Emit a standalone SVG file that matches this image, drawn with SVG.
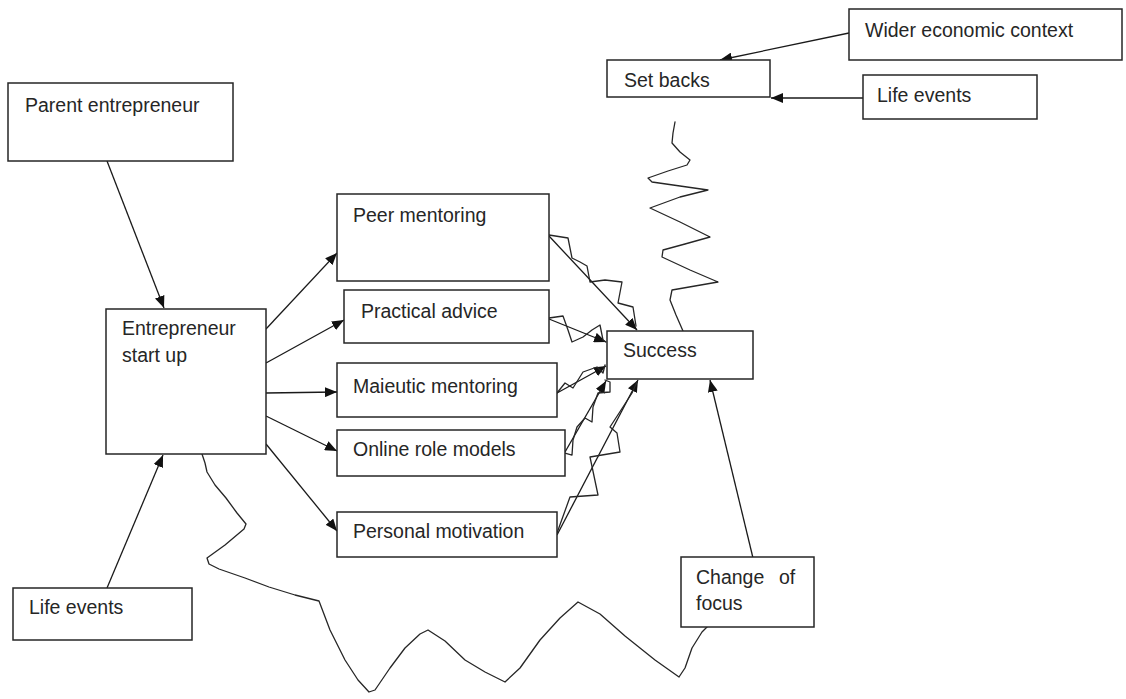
<svg xmlns="http://www.w3.org/2000/svg" width="1126" height="699" viewBox="0 0 1126 699">
<style>
.box{fill:#fff;stroke:#262626;stroke-width:1.5}
.t{font-family:"Liberation Sans",Arial,sans-serif;font-size:19.5px;fill:#262626}
.ln{fill:none;stroke:#1a1a1a;stroke-width:1.3}
.wv{fill:none;stroke:#262626;stroke-width:1.3;stroke-linejoin:round;stroke-linecap:round}
</style>
<defs>
<marker id="ah" viewBox="0 0 12 10" refX="12" refY="5" markerWidth="12" markerHeight="10" markerUnits="userSpaceOnUse" orient="auto">
<path d="M0,0 L12,5 L0,10 Z" fill="#111"/>
</marker>
</defs>
<rect width="1126" height="699" fill="#fff"/>
<g id="connectors">
<line class="ln" x1="107" y1="161" x2="164" y2="308" marker-end="url(#ah)"/>
<line class="ln" x1="107" y1="588" x2="163" y2="455" marker-end="url(#ah)"/>
<line class="ln" x1="266" y1="329" x2="337" y2="253" marker-end="url(#ah)"/>
<line class="ln" x1="266" y1="363" x2="344" y2="320" marker-end="url(#ah)"/>
<line class="ln" x1="266" y1="393" x2="337" y2="392" marker-end="url(#ah)"/>
<line class="ln" x1="266" y1="416" x2="337" y2="451" marker-end="url(#ah)"/>
<line class="ln" x1="266" y1="444" x2="337" y2="531" marker-end="url(#ah)"/>
<line class="ln" x1="849" y1="33" x2="720" y2="60" marker-end="url(#ah)"/>
<line class="ln" x1="863" y1="98" x2="771" y2="98" marker-end="url(#ah)"/>
<line class="ln" x1="753" y1="558" x2="710" y2="380" marker-end="url(#ah)"/>
<line class="ln" x1="549" y1="236" x2="637" y2="330" marker-end="url(#ah)"/>
<line class="ln" x1="549" y1="319" x2="606" y2="342" marker-end="url(#ah)"/>
<line class="ln" x1="557" y1="393" x2="606" y2="366" marker-end="url(#ah)"/>
<line class="ln" x1="565" y1="452" x2="606" y2="381" marker-end="url(#ah)"/>
<line class="ln" x1="557" y1="535" x2="638" y2="380" marker-end="url(#ah)"/>
<polyline class="wv" points="549,235 568,238 572,258 580,262 587,266 590,282 605,280 622,282 618,303 633,307 636,326"/>
<polyline class="wv" points="549,318 563,316 568,330 572,342 583,337 592,330 600,325 603,340 606,342"/>
<polyline class="wv" points="557,393 565,383 573,388 583,372 597,367 603,373 605,365"/>
<polyline class="wv" points="565,453 572,455 573,440 577,427 585,418 592,422 593,407 598,393 610,392 610,382 605,380"/>
<polyline class="wv" points="557,533 570,497 598,495 590,457 620,452 617,433 610,427 623,407 632,393 637,382"/>
<polyline class="wv" points="675,122 673,133 672,143 680,152 690,160 687,165 668,171 648,178 652,182 680,186 708,190 680,197 650,208 680,222 710,237 685,244 663,250 662,257 690,270 718,282 695,286 672,290 670,300 676,315 683,331"/>
<polyline class="wv" points="202,454 205,463 207,472 215,485 226,498 237,513 246,524 244,529 225,545 207,558 209,564 219,569 245,578 269,587 295,595 319,601 330,630 345,660 358,680 369,692 375,690 390,668 405,648 420,634 428,630 445,641 465,660 485,672 505,682 520,668 540,640 560,618 578,602 600,614 625,636 655,660 679,677 685,668 692,648 702,632 710,624 715,618"/>
</g>
<g id="parent">
<rect class="box" x="8" y="83" width="225" height="78"/>
<text class="t" x="25" y="112">Parent entrepreneur</text>
</g>
<g id="startup">
<rect class="box" x="106" y="309" width="160" height="145"/>
<text class="t" x="122" y="335">Entrepreneur</text>
<text class="t" x="122" y="362">start up</text>
</g>
<g id="lifeevents1">
<rect class="box" x="13" y="588" width="179" height="52"/>
<text class="t" x="29" y="614">Life events</text>
</g>
<g id="peer">
<rect class="box" x="337" y="194" width="212" height="87"/>
<text class="t" x="353" y="222">Peer mentoring</text>
</g>
<g id="practical">
<rect class="box" x="344" y="290" width="205" height="53"/>
<text class="t" x="361" y="318">Practical advice</text>
</g>
<g id="maieutic">
<rect class="box" x="337" y="363" width="220" height="54"/>
<text class="t" x="353" y="393">Maieutic mentoring</text>
</g>
<g id="online">
<rect class="box" x="337" y="430" width="228" height="46"/>
<text class="t" x="353" y="456">Online role models</text>
</g>
<g id="personal">
<rect class="box" x="337" y="512" width="220" height="45"/>
<text class="t" x="353" y="538">Personal motivation</text>
</g>
<g id="success">
<rect class="box" x="607" y="331" width="146" height="48"/>
<text class="t" x="623" y="357">Success</text>
</g>
<g id="setbacks">
<rect class="box" x="607" y="60" width="163" height="37"/>
<text class="t" x="624" y="87">Set backs</text>
</g>
<g id="wider">
<rect class="box" x="849" y="9" width="273" height="51"/>
<text class="t" x="865" y="37">Wider economic context</text>
</g>
<g id="lifeevents2">
<rect class="box" x="863" y="75" width="174" height="44"/>
<text class="t" x="877" y="102">Life events</text>
</g>
<g id="changefocus">
<rect class="box" x="681" y="557" width="133" height="70"/>
<text class="t" x="696" y="584">Change</text>
<text class="t" x="779" y="584">of</text>
<text class="t" x="696" y="610">focus</text>
</g>
</svg>
